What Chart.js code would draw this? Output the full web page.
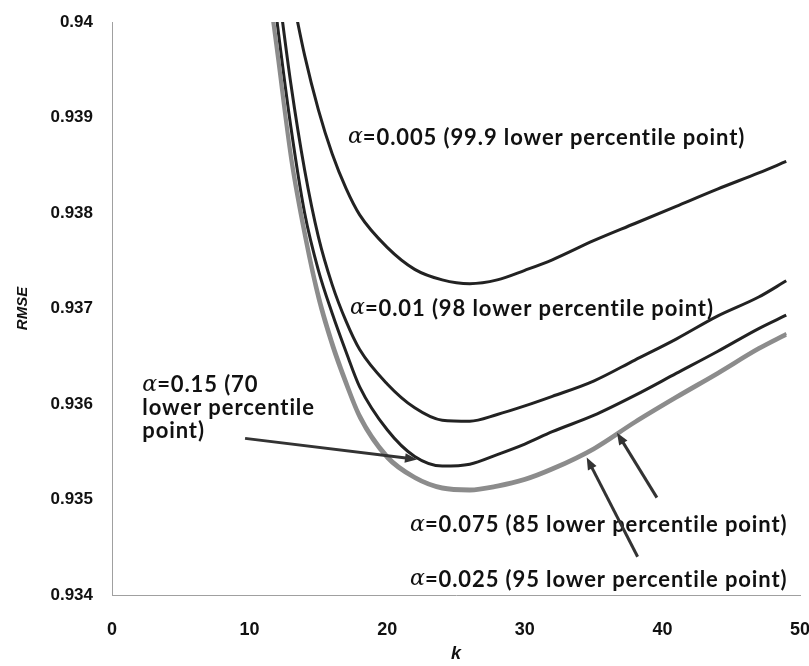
<!DOCTYPE html>
<html>
<head>
<meta charset="utf-8">
<script src="https://cdn.jsdelivr.net/npm/chart.js@4.4.1/dist/chart.umd.min.js"></script>
<style>
    html, body { margin: 0; padding: 0; background: #fff; }
    #grafico { display: block; }
</style>
</head>
<body>
<canvas id="grafico" width="809" height="666"></canvas>
<script>
const kValues = [11, 12, 13, 14, 15, 16, 17, 18, 20, 22, 24, 26, 28, 30, 32, 35, 38, 41, 44, 47, 49];

const rmseAlpha005 = [0.94190, 0.94105, 0.94035, 0.93965, 0.93908, 0.93862, 0.93826, 0.93798, 0.93764, 0.93741, 0.93730, 0.93726, 0.93730, 0.93740, 0.93751, 0.93771, 0.93789, 0.93807, 0.93825, 0.93842, 0.93854];
const rmseAlpha01 = [0.94160, 0.94045, 0.93935, 0.93845, 0.93775, 0.93725, 0.93687, 0.93657, 0.93621, 0.93596, 0.93583, 0.93582, 0.93589, 0.93598, 0.93608, 0.93624, 0.93646, 0.93668, 0.93692, 0.93712, 0.93729];
const rmseAlpha15 = [0.94125, 0.94000, 0.93890, 0.93800, 0.93740, 0.93695, 0.93655, 0.93618, 0.93573, 0.93545, 0.93535, 0.93537, 0.93547, 0.93558, 0.93571, 0.93588, 0.93609, 0.93632, 0.93655, 0.93679, 0.93693];
const rmseAlpha075 = [0.94082, 0.93975, 0.93864, 0.93783, 0.93716, 0.93666, 0.93625, 0.93589, 0.93546, 0.93524, 0.93513, 0.93511, 0.93515, 0.93522, 0.93533, 0.93554, 0.93582, 0.93608, 0.93633, 0.93659, 0.93674];
const rmseAlpha025 = [0.94075, 0.93965, 0.93855, 0.93775, 0.93709, 0.93660, 0.93620, 0.93585, 0.93543, 0.93522, 0.93511, 0.93509, 0.93513, 0.93520, 0.93531, 0.93552, 0.93580, 0.93606, 0.93631, 0.93657, 0.93672];

const xTicks = [0, 10, 20, 30, 40, 50];
const yTicks = [0.934, 0.935, 0.936, 0.937, 0.938, 0.939, 0.94];

// text notes placed in data units (k, RMSE)
const noteLines = [
    ['α=0.005 (99.9 lower percentile point)'],
    ['α=0.01 (98 lower percentile point)'],
    ['α=0.15 (70', 'lower percentile', 'point)'],
    ['α=0.075 (85 lower percentile point)'],
    ['α=0.025 (95 lower percentile point)']
];
const noteK = [17.15, 17.3, 2.2, 21.66, 21.66];
const noteRmse = [0.93879, 0.93700, 0.93620, 0.93473, 0.93416];

// arrows: tail -> head, data units
const arrowFromK = [9.67, 39.6, 38.2];
const arrowFromRmse = [0.93564, 0.93502, 0.93440];
const arrowToK = [22.17, 36.7, 34.5];
const arrowToRmse = [0.93542, 0.93570, 0.93544];

function puntos(ys) {
    return kValues.map(function (k, i) { return { x: k, y: ys[i] }; });
}

function serie(label, ys, color) {
    return {
        label: label,
        data: puntos(ys),
        borderColor: color,
        borderWidth: 3,
        pointRadius: 0,
        fill: false,
        cubicInterpolationMode: 'monotone'
    };
}

const notasPlugin = {
    id: 'notas',
    afterDatasetsDraw: function (chart) {
        const ctx = chart.ctx;
        const xs = chart.scales.x;
        const ys = chart.scales.y;
        ctx.save();
        ctx.fillStyle = '#111';
        ctx.textBaseline = 'middle';
        ctx.textAlign = 'left';
        noteLines.forEach(function (lines, i) {
            const x0 = xs.getPixelForValue(noteK[i]);
            const y0 = ys.getPixelForValue(noteRmse[i]);
            lines.forEach(function (txt, j) {
                let cx = x0;
                const cy = y0 + j * 23;
                ctx.letterSpacing = '0px';
                if (txt.charAt(0) === 'α') {
                    ctx.font = 'italic 22px "DejaVu Serif"';
                    ctx.fillText('α', cx, cy);
                    cx += ctx.measureText('α').width;
                    txt = txt.slice(1);
                }
                ctx.font = 'bold 22px Lato';
                ctx.letterSpacing = '0.9px';
                ctx.fillText(txt, cx, cy);
            });
        });
        ctx.letterSpacing = '0px';

        ctx.strokeStyle = '#333';
        ctx.fillStyle = '#333';
        ctx.lineWidth = 3;
        for (let i = 0; i < arrowFromK.length; i++) {
            const x1 = xs.getPixelForValue(arrowFromK[i]);
            const y1 = ys.getPixelForValue(arrowFromRmse[i]);
            const x2 = xs.getPixelForValue(arrowToK[i]);
            const y2 = ys.getPixelForValue(arrowToRmse[i]);
            const ang = Math.atan2(y2 - y1, x2 - x1);
            const head = 13;
            ctx.beginPath();
            ctx.moveTo(x1, y1);
            ctx.lineTo(x2 - Math.cos(ang) * head * 0.7, y2 - Math.sin(ang) * head * 0.7);
            ctx.stroke();
            ctx.beginPath();
            ctx.moveTo(x2, y2);
            ctx.lineTo(x2 - head * Math.cos(ang - 0.38), y2 - head * Math.sin(ang - 0.38));
            ctx.lineTo(x2 - head * Math.cos(ang + 0.38), y2 - head * Math.sin(ang + 0.38));
            ctx.closePath();
            ctx.fill();
        }
        ctx.restore();
    }
};

document.addEventListener('DOMContentLoaded', function () {
    const ctx = document.getElementById('grafico').getContext('2d');

    const grafico = new Chart(ctx, {
        type: 'line',
        data: {
            datasets: [
                serie('α=0.025', rmseAlpha025, '#8c8c8c'),
                serie('α=0.075', rmseAlpha075, '#8c8c8c'),
                serie('α=0.15', rmseAlpha15, '#222'),
                serie('α=0.01', rmseAlpha01, '#222'),
                serie('α=0.005', rmseAlpha005, '#222')
            ]
        },
        options: {
            responsive: false,
            animation: false,
            devicePixelRatio: 1,
            layout: {
                padding: { left: 4, right: 9, top: 22, bottom: 0 }
            },
            plugins: {
                legend: { display: false },
                tooltip: { enabled: false }
            },
            scales: {
                x: {
                    type: 'linear',
                    min: 0,
                    max: 50,
                    afterBuildTicks: function (scale) {
                        scale.ticks = xTicks.map(function (v) { return { value: v }; });
                    },
                    afterFit: function (scale) {
                        scale.height = 71;
                        scale.paddingLeft = 0;
                        scale.paddingRight = 0;
                    },
                    grid: { display: false, drawTicks: false },
                    border: { display: true, color: '#a0a0a0', width: 1, dash: [1, 1] },
                    ticks: {
                        color: '#111',
                        padding: 24,
                        maxRotation: 0,
                        font: { family: '"Liberation Sans", Arial', size: 18, weight: 'bold' }
                    },
                    title: {
                        display: true,
                        text: 'k',
                        color: '#111',
                        padding: { top: 0, bottom: 1 },
                        font: { family: '"Liberation Sans", Arial', size: 18, weight: 'bold', style: 'italic' }
                    }
                },
                y: {
                    min: 0.934,
                    max: 0.94,
                    afterBuildTicks: function (scale) {
                        scale.ticks = yTicks.map(function (v) { return { value: v }; });
                    },
                    afterFit: function (scale) {
                        scale.width = 108;
                        scale.paddingTop = 0;
                        scale.paddingBottom = 0;
                    },
                    grid: { display: false, drawTicks: false },
                    border: { display: true, color: '#a0a0a0', width: 1, dash: [1, 1] },
                    ticks: {
                        color: '#111',
                        padding: 19,
                        font: { family: '"Liberation Sans", Arial', size: 17, weight: 'bold' },
                        callback: function (v) { return String(Number(v.toFixed(3))); }
                    },
                    title: {
                        display: true,
                        text: 'RMSE',
                        color: '#111',
                        padding: { top: 10, bottom: 0 },
                        font: { family: '"Liberation Sans", Arial', size: 15, weight: 'bold', style: 'italic' }
                    }
                }
            }
        },
        plugins: [notasPlugin]
    });
});
</script>
</body>
</html>
